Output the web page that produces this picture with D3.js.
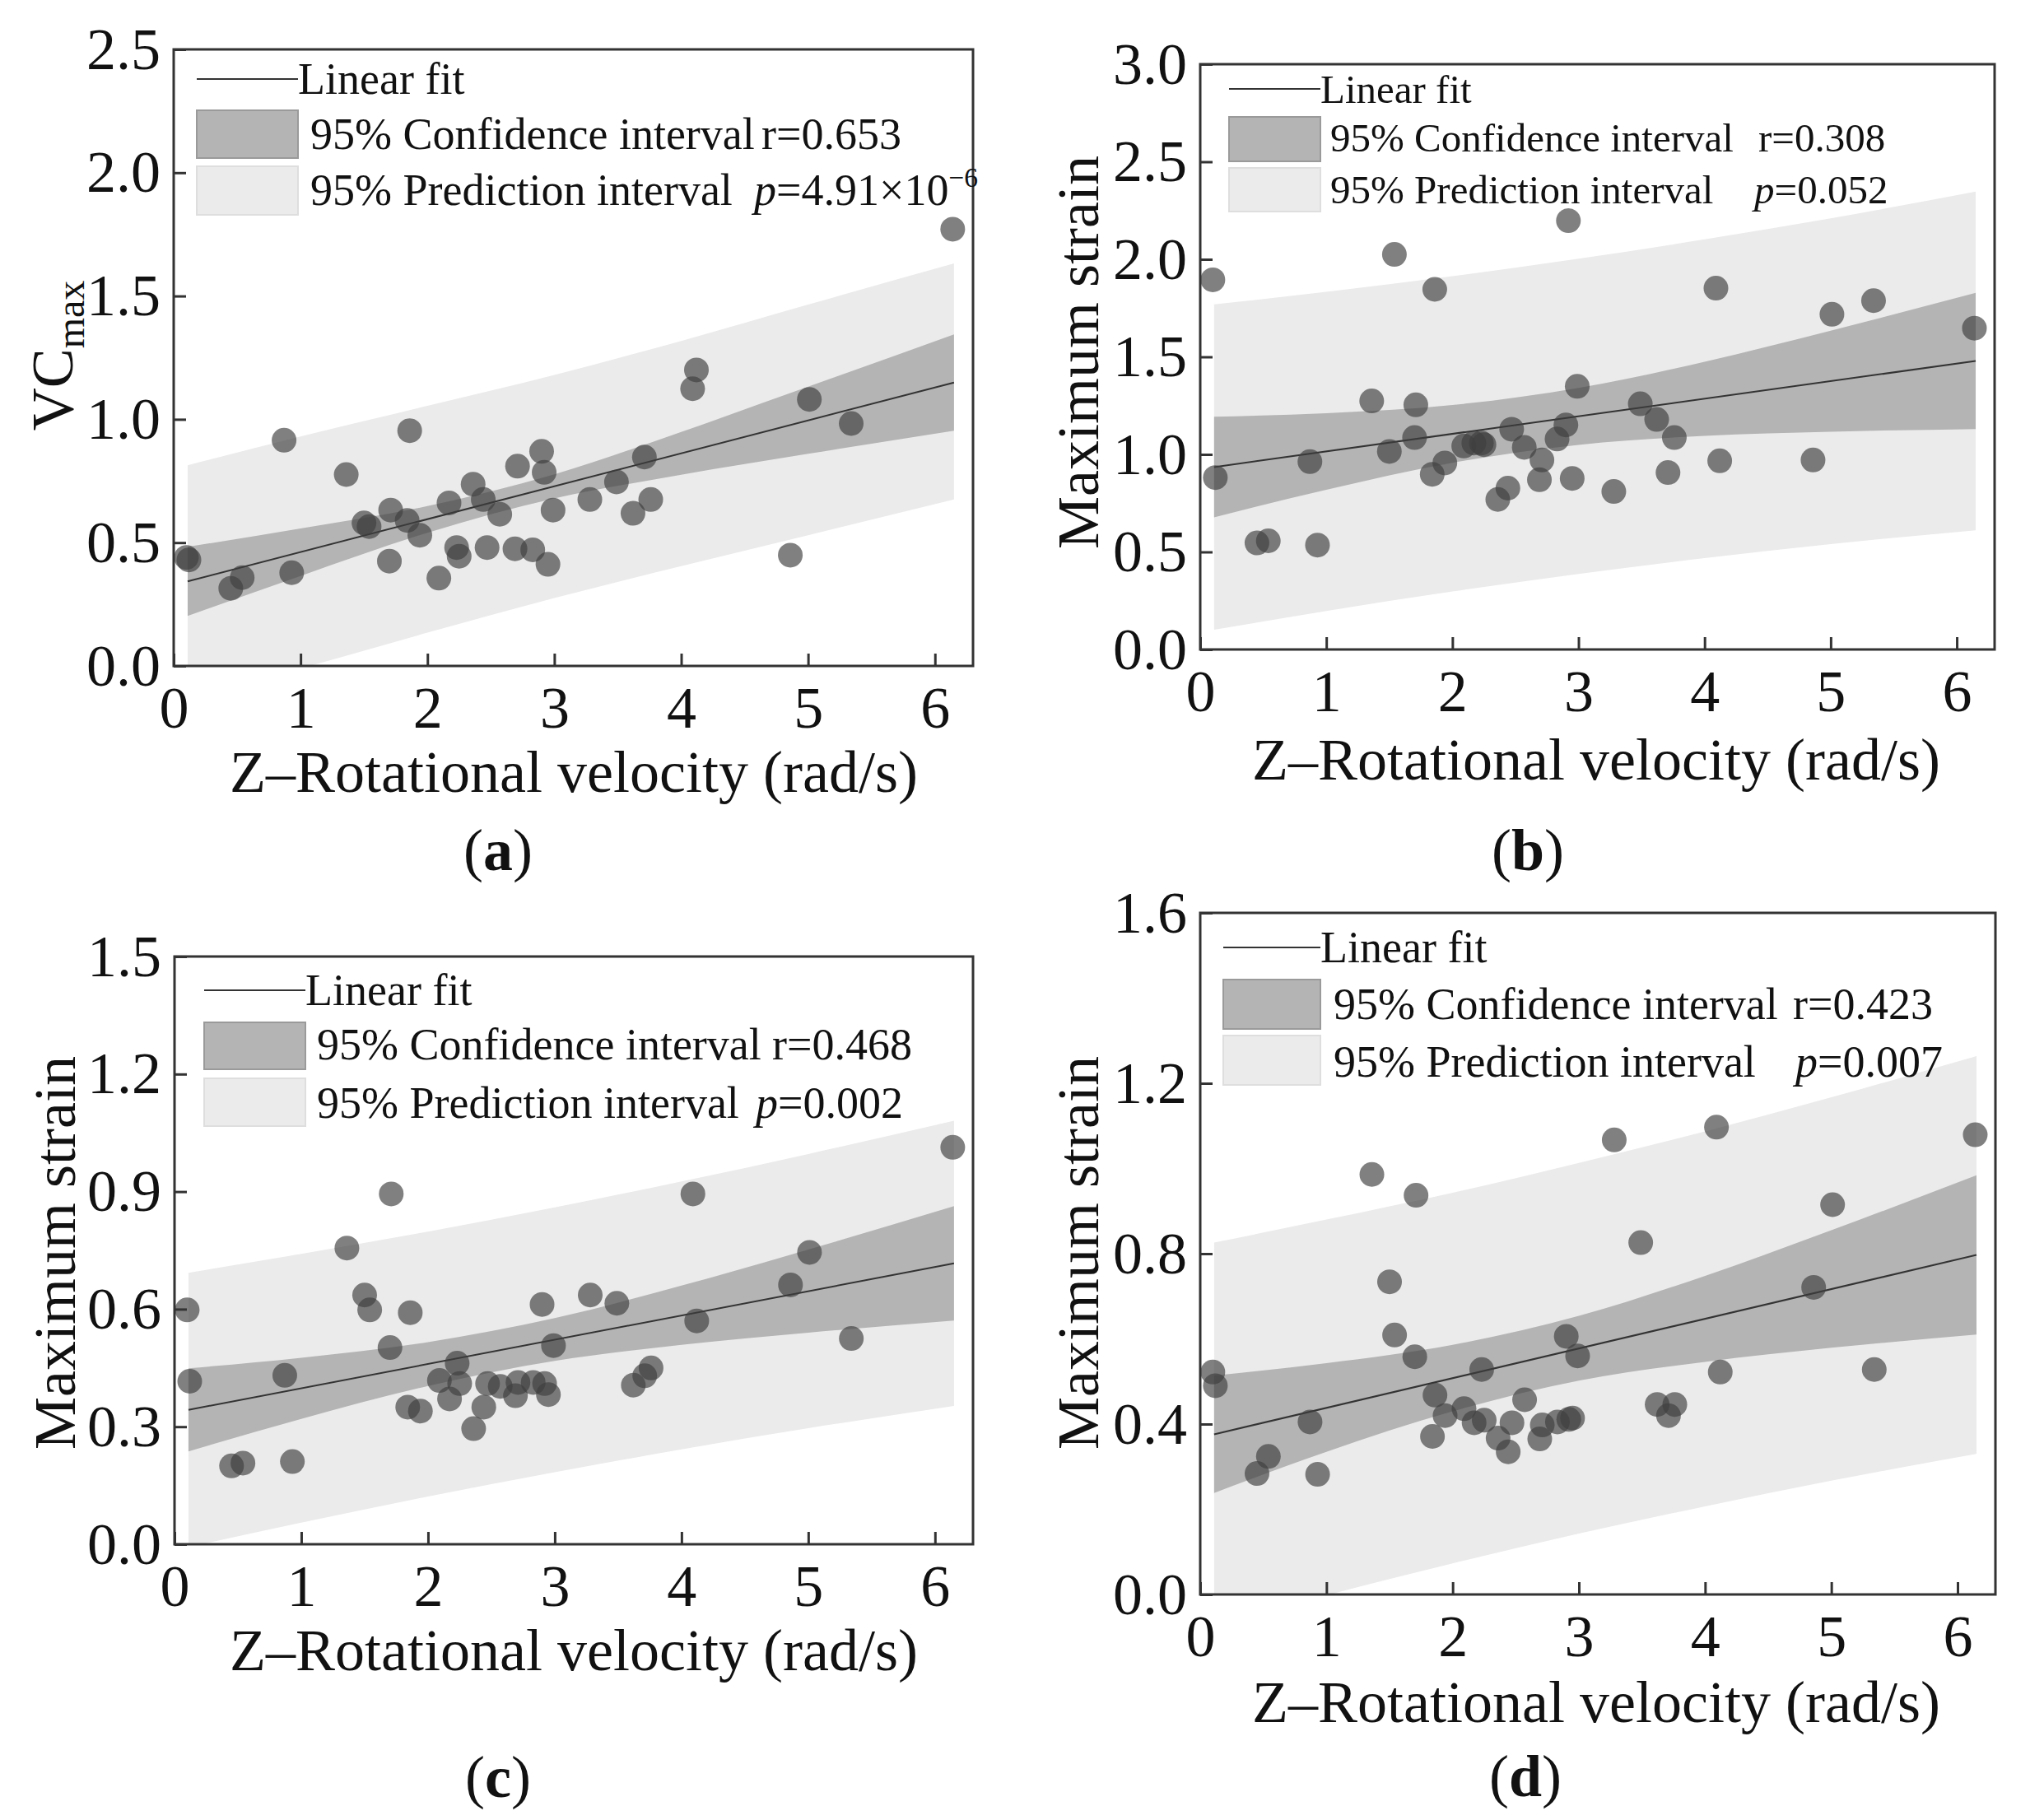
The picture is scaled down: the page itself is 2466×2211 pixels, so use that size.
<!DOCTYPE html>
<html>
<head>
<meta charset="utf-8">
<script src="https://cdn.jsdelivr.net/npm/d3@7"></script>
<style>
  body { margin: 0; background: #fff; }
  text { font-family: "Liberation Serif", "Times New Roman", serif; fill: #111; }
</style>
</head>
<body>
<svg id="chart" width="2466" height="2211"></svg>
<script>
// Z-rotational velocity (rad/s), same subjects in all four panels
const rotVel = [0.10, 0.12, 0.45, 0.54, 0.87, 0.93, 1.36, 1.50, 1.54, 1.70, 1.71, 1.84, 1.86, 1.94, 2.09, 2.17, 2.23, 2.25, 2.36, 2.44,
  2.47, 2.57, 2.69, 2.71, 2.83, 2.90, 2.92, 2.95, 2.99, 3.28, 3.49, 3.62, 3.71, 3.76, 4.09, 4.12, 4.86, 5.01, 5.34, 6.14];

// y values per panel
const vcMax = [0.44, 0.43, 0.315, 0.358, 0.915, 0.378, 0.776, 0.58, 0.565, 0.425, 0.632, 0.59, 0.954, 0.53, 0.356, 0.661, 0.48, 0.445, 0.737, 0.675,
  0.48, 0.615, 0.475, 0.81, 0.471, 0.87, 0.785, 0.412, 0.632, 0.675, 0.746, 0.619, 0.847, 0.675, 1.124, 1.2, 0.449, 1.081, 0.983, 1.771];
const strainB = [1.895, 0.881, 0.546, 0.557, 0.963, 0.535, 1.274, 1.015, 2.025, 1.086, 1.254, 0.898, 1.846, 0.956, 1.043, 1.058, 1.058, 1.05, 0.769, 0.827,
  1.129, 1.036, 0.87, 0.971, 1.079, 1.151, 2.198, 0.877, 1.349, 0.81, 1.259, 1.179, 0.907, 1.086, 1.852, 0.967, 0.971, 1.718, 1.788, 1.647];
const strainC = [0.598, 0.416, 0.2, 0.207, 0.431, 0.211, 0.756, 0.636, 0.598, 0.502, 0.894, 0.35, 0.591, 0.34, 0.418, 0.371, 0.462, 0.41, 0.295, 0.35,
  0.41, 0.403, 0.379, 0.413, 0.413, 0.612, 0.41, 0.382, 0.507, 0.636, 0.615, 0.406, 0.43, 0.45, 0.894, 0.57, 0.662, 0.745, 0.525, 1.013];
const strainD = [0.522, 0.49, 0.284, 0.324, 0.405, 0.282, 0.986, 0.734, 0.609, 0.558, 0.937, 0.371, 0.468, 0.42, 0.436, 0.403, 0.528, 0.409, 0.367, 0.335,
  0.403, 0.457, 0.365, 0.398, 0.405, 0.606, 0.411, 0.414, 0.56, 1.067, 0.826, 0.446, 0.42, 0.446, 1.097, 0.522, 0.721, 0.915, 0.528, 1.079];

// fit line ends and band edges
const fitX = [0.11, 6.15];
const bandX = [0.11, 1, 2, 3, 4, 5, 6.15];

const fitA = [0.343, 1.149];
const ciUpA = [0.483, 0.557, 0.648, 0.777, 0.949, 1.132, 1.344];
const ciLoA = [0.203, 0.365, 0.540, 0.679, 0.775, 0.860, 0.954];
const piUpA = [0.814, 0.93, 1.055, 1.18, 1.318, 1.465, 1.632];
const piLoA = [-0.128, -0.01, 0.135, 0.275, 0.405, 0.53, 0.675];

const fitB = [0.935, 1.479];
const ciUpB = [1.193, 1.211, 1.253, 1.341, 1.475, 1.634, 1.828];
const ciLoB = [0.677, 0.819, 0.957, 1.049, 1.095, 1.116, 1.130];
const piUpB = [1.769, 1.833, 1.913, 2.003, 2.102, 2.21, 2.347];
const piLoB = [0.101, 0.197, 0.297, 0.387, 0.468, 0.54, 0.611];

const fitC = [0.343, 0.717];
const ciUpC = [0.449, 0.476, 0.516, 0.577, 0.660, 0.752, 0.863];
const ciLoC = [0.237, 0.320, 0.404, 0.468, 0.509, 0.540, 0.571];
const piUpC = [0.693, 0.741, 0.798, 0.86, 0.926, 0.996, 1.081];
const piLoC = [-0.007, 0.055, 0.122, 0.184, 0.242, 0.296, 0.353];

const fitD = [0.376, 0.797];
const ciUpD = [0.514, 0.543, 0.586, 0.654, 0.748, 0.855, 0.984];
const ciLoD = [0.238, 0.335, 0.430, 0.502, 0.546, 0.579, 0.610];
const piUpD = [0.826, 0.88, 0.943, 1.013, 1.087, 1.167, 1.264];
const piLoD = [-0.074, -0.002, 0.073, 0.143, 0.207, 0.267, 0.33];

const xTicks = [0, 1, 2, 3, 4, 5, 6];

const panels = [
  {id: "a", ys: vcMax, yMax: 2.5, yStep: 0.5, fit: fitA, ciUp: ciUpA, ciLo: ciLoA, piUp: piUpA, piLo: piLoA,
   r: "0.653", p: "4.91×10", pExp: "−6",
   frame: {left: 211, top: 60, right: 1182, bottom: 809},
   yTitle: {x: 88, y: 432}, xTitle: {x: 697, y: 962}, tag: {x: 605, y: 1057},
   leg: {x0: 239, x1: 362, lineY: 96, textX: 377, base: [114, 181, 249], ci: [134, 192], pi: [202, 261], rX: 925, pX: 916, size: 54}},
  {id: "b", ys: strainB, yMax: 3.0, yStep: 0.5, fit: fitB, ciUp: ciUpB, ciLo: ciLoB, piUp: piUpB, piLo: piLoB,
   r: "0.308", p: "0.052",
   frame: {left: 1458, top: 78, right: 2423, bottom: 789},
   yTitle: {x: 1334, y: 428}, xTitle: {x: 1939, y: 947}, tag: {x: 1856, y: 1057},
   leg: {x0: 1493, x1: 1604, lineY: 108, textX: 1616, base: [125, 184, 247], ci: [142, 196], pi: [204, 257], rX: 2136, pX: 2131, size: 49}},
  {id: "c", ys: strainC, yMax: 1.5, yStep: 0.3, fit: fitC, ciUp: ciUpC, ciLo: ciLoC, piUp: piUpC, piLo: piLoC,
   r: "0.468", p: "0.002",
   frame: {left: 212, top: 1162, right: 1182, bottom: 1876},
   yTitle: {x: 91, y: 1522}, xTitle: {x: 697, y: 2029}, tag: {x: 605, y: 2183},
   leg: {x0: 248, x1: 371, lineY: 1203, textX: 385, base: [1221, 1287, 1358], ci: [1242, 1299], pi: [1310, 1368], rX: 938, pX: 918, size: 54}},
  {id: "d", ys: strainD, yMax: 1.6, yStep: 0.4, fit: fitD, ciUp: ciUpD, ciLo: ciLoD, piUp: piUpD, piLo: piLoD,
   r: "0.423", p: "0.007",
   frame: {left: 1458, top: 1109, right: 2424, bottom: 1937},
   yTitle: {x: 1334, y: 1522}, xTitle: {x: 1939, y: 2092}, tag: {x: 1853, y: 2182},
   leg: {x0: 1486, x1: 1604, lineY: 1151, textX: 1620, base: [1169, 1238, 1308], ci: [1190, 1250], pi: [1258, 1318], rX: 2178, pX: 2181, size: 54}}
];

const svg = d3.select("#chart");
const defs = svg.append("defs");

panels.forEach(pn => {
  const f = pn.frame;
  const x = d3.scaleLinear().domain([0, 6.3]).range([f.left, f.right]);
  const y = d3.scaleLinear().domain([0, pn.yMax]).range([f.bottom, f.top]);
  const g = svg.append("g").attr("class", "panel-" + pn.id);

  defs.append("clipPath").attr("id", "clip-" + pn.id)
    .append("rect")
    .attr("x", f.left).attr("y", f.top)
    .attr("width", f.right - f.left).attr("height", f.bottom - f.top);

  const plot = g.append("g").attr("clip-path", `url(#clip-${pn.id})`);

  const band = (up, lo) => d3.area()
    .x((d, i) => x(bandX[i]))
    .y0((d, i) => y(lo[i]))
    .y1((d, i) => y(up[i]))
    .curve(d3.curveMonotoneX)(bandX);

  // prediction band, then confidence band on top
  plot.append("path").attr("d", band(pn.piUp, pn.piLo)).attr("fill", "#ebebeb");
  plot.append("path").attr("d", band(pn.ciUp, pn.ciLo)).attr("fill", "#b4b4b4");

  plot.append("path")
    .attr("d", d3.line().x((d, i) => x(fitX[i])).y(d => y(d))(pn.fit))
    .attr("stroke", "#333").attr("stroke-width", 2).attr("fill", "none");

  plot.selectAll("circle")
    .data(pn.ys)
    .join("circle")
    .attr("cx", (d, i) => x(rotVel[i]))
    .attr("cy", d => y(d))
    .attr("r", 15)
    .attr("fill", "#3e3e3e")
    .attr("fill-opacity", 0.66);

  // axes with inward ticks
  const yTicks = d3.range(0, pn.yMax + 1e-9, pn.yStep);
  const xAxis = g.append("g").attr("transform", `translate(0,${f.bottom})`)
    .call(d3.axisBottom(x).tickValues(xTicks).tickFormat(d3.format("d"))
      .tickSizeInner(-15).tickSizeOuter(0).tickPadding(24));
  const yAxis = g.append("g").attr("transform", `translate(${f.left},0)`)
    .call(d3.axisLeft(y).tickValues(yTicks).tickFormat(d3.format(".1f"))
      .tickSizeInner(-15).tickSizeOuter(0).tickPadding(16));
  [xAxis, yAxis].forEach(ax => {
    ax.select(".domain").remove();
    ax.selectAll("line").attr("stroke", "#333").attr("stroke-width", 3);
    ax.selectAll("text").attr("font-family", '"Liberation Serif", serif').attr("font-size", 72).attr("fill", "#111");
  });

  g.append("rect")
    .attr("x", f.left).attr("y", f.top)
    .attr("width", f.right - f.left).attr("height", f.bottom - f.top)
    .attr("fill", "none").attr("stroke", "#333").attr("stroke-width", 3);

  // legend
  const L = pn.leg;
  g.append("line").attr("x1", L.x0).attr("x2", L.x1).attr("y1", L.lineY).attr("y2", L.lineY)
    .attr("stroke", "#333").attr("stroke-width", 2);
  g.append("rect").attr("x", L.x0).attr("y", L.ci[0]).attr("width", L.x1 - L.x0).attr("height", L.ci[1] - L.ci[0])
    .attr("fill", "#b4b4b4").attr("stroke", "#9a9a9a").attr("stroke-width", 2);
  g.append("rect").attr("x", L.x0).attr("y", L.pi[0]).attr("width", L.x1 - L.x0).attr("height", L.pi[1] - L.pi[0])
    .attr("fill", "#ebebeb").attr("stroke", "#dedede").attr("stroke-width", 2);
  const legText = (tx, ty, s) => g.append("text").attr("x", tx).attr("y", ty)
    .attr("font-size", L.size).text(s);
  legText(L.x1, L.base[0], "Linear fit");
  legText(L.textX, L.base[1], "95% Confidence interval");
  legText(L.textX, L.base[2], "95% Prediction interval");
  legText(L.rX, L.base[1], "r=" + pn.r);
  const pt = g.append("text").attr("x", L.pX).attr("y", L.base[2]).attr("font-size", L.size);
  pt.append("tspan").attr("font-style", "italic").text("p");
  pt.append("tspan").text("=" + pn.p);
  if (pn.pExp) {
    pt.append("tspan").attr("dy", -22).attr("font-size", L.size * 0.62).text(pn.pExp);
  }

  // axis titles
  g.append("text").attr("x", pn.xTitle.x).attr("y", pn.xTitle.y)
    .attr("text-anchor", "middle").attr("font-size", 72)
    .text("Z–Rotational velocity (rad/s)");

  const yt = g.append("text")
    .attr("transform", `translate(${pn.yTitle.x},${pn.yTitle.y}) rotate(-90)`)
    .attr("text-anchor", "middle").attr("font-size", 72);
  if (pn.id === "a") {
    yt.append("tspan").text("VC");
    yt.append("tspan").attr("font-size", 48).attr("dy", 14).text("max");
  } else {
    yt.text("Maximum strain");
  }

  const tag = g.append("text").attr("x", pn.tag.x).attr("y", pn.tag.y)
    .attr("text-anchor", "middle").attr("font-size", 72);
  tag.append("tspan").text("(");
  tag.append("tspan").attr("font-weight", "bold").text(pn.id);
  tag.append("tspan").text(")");
});
</script>
</body>
</html>
